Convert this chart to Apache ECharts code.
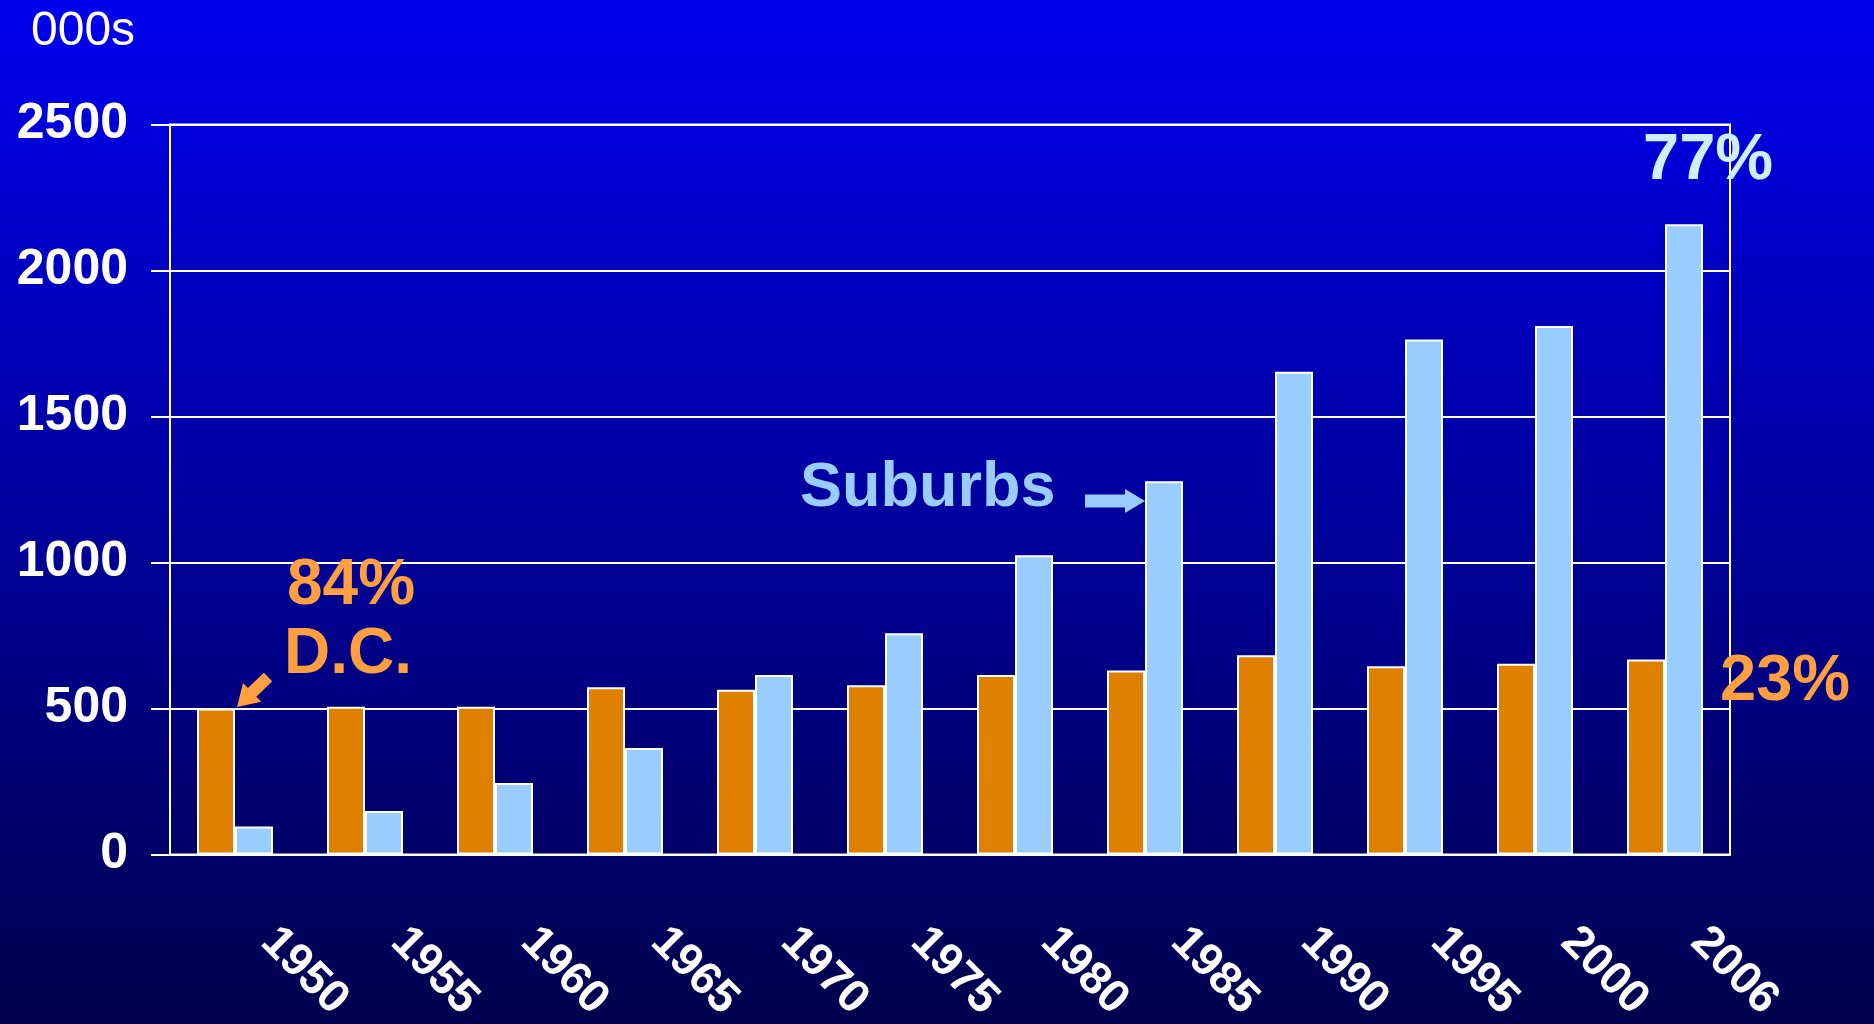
<!DOCTYPE html>
<html>
<head>
<meta charset="utf-8">
<title>D.C. vs Suburbs</title>
<script src="https://cdn.jsdelivr.net/npm/echarts@6/dist/echarts.min.js"></script>
<style>
  html, body {
    margin: 0;
    padding: 0;
    background: linear-gradient(#0000ee, #00004d);
  }
  #main {
    width: 1874px;
    height: 1024px;
  }
</style>
</head>
<body>
<div id="main"></div>
<script>
// population, thousands
const years = ["1950", "1955", "1960", "1965", "1970", "1975", "1980", "1985", "1990", "1995", "2000", "2006"];
const dcPop = [500, 506, 506, 573, 564, 580, 615, 630, 682, 645, 653, 668];
const suburbPop = [96, 149, 245, 365, 615, 758, 1025, 1278, 1653, 1764, 1810, 2158];

const FONT = "'Liberation Sans', Arial, sans-serif";
const ORANGE = "#df8000";
const ORANGE_TXT = "#ff9f40";
const LIGHTBLUE = "#99ccff";

// arrow outline: tail -> tip
function arrow(tail, tip, shaftW, headW, headL) {
  const dx = tip[0] - tail[0], dy = tip[1] - tail[1];
  const len = Math.sqrt(dx * dx + dy * dy);
  const ux = dx / len, uy = dy / len;
  const nx = -uy, ny = ux;
  const bx = tip[0] - ux * headL, by = tip[1] - uy * headL;
  const s = shaftW / 2, h = headW / 2;
  return [
    [tail[0] + nx * s, tail[1] + ny * s],
    [bx + nx * s, by + ny * s],
    [bx + nx * h, by + ny * h],
    [tip[0], tip[1]],
    [bx - nx * h, by - ny * h],
    [bx - nx * s, by - ny * s],
    [tail[0] - nx * s, tail[1] - ny * s]
  ];
}

function label(text, x, y, size, color, weight) {
  return {
    type: "text",
    x: x,
    y: y,
    z: 100,
    style: {
      text: text,
      fill: color,
      font: (weight || "bold") + " " + size + "px " + FONT,
      verticalAlign: "top"
    }
  };
}

const chart = echarts.init(document.getElementById("main"));

const option = {
  animation: false,
  backgroundColor: new echarts.graphic.LinearGradient(0, 0, 0, 1, [
    { offset: 0, color: "#0000ee" },
    { offset: 1, color: "#00004d" }
  ]),
  textStyle: { fontFamily: FONT },
  grid: {
    left: 170,
    right: 144,
    top: 124.5,
    bottom: 169.5,
    show: true,
    borderColor: "#fff",
    borderWidth: 2,
    backgroundColor: "transparent",
    containLabel: false,
    outerBoundsMode: "none"
  },
  xAxis: {
    type: "category",
    data: years,
    axisLine: { lineStyle: { color: "#fff", width: 2 } },
    axisTick: { length: 18, interval: 0, lineStyle: { color: "#fff", width: 2 } },
    axisLabel: {
      interval: 0,
      rotate: -45,
      margin: 47,
      padding: [0, 0, 0, 47],
      color: "#fff",
      fontSize: 46,
      fontWeight: "bold",
      fontFamily: FONT
    },
    splitLine: { show: false }
  },
  yAxis: {
    type: "value",
    min: 0,
    max: 2500,
    interval: 500,
    axisLine: { show: true, lineStyle: { color: "#fff", width: 2 } },
    axisTick: { show: true, length: 19, lineStyle: { color: "#fff", width: 2 } },
    axisLabel: {
      margin: 42,
      color: "#fff",
      fontSize: 50,
      fontWeight: "bold",
      fontFamily: FONT,
      formatter: function (v) { return String(v); }
    },
    splitLine: { lineStyle: { color: "#fff", width: 2 } }
  },
  series: [
    {
      name: "D.C.",
      type: "bar",
      data: dcPop,
      barWidth: 38,
      barGap: "0%",
      itemStyle: { color: ORANGE, borderColor: "#fff", borderWidth: 2 }
    },
    {
      name: "Suburbs",
      type: "bar",
      data: suburbPop,
      barWidth: 38,
      barGap: "0%",
      itemStyle: { color: LIGHTBLUE, borderColor: "#fff", borderWidth: 2 }
    }
  ],
  graphic: [
    label("000s", 31, 8, 48, "#fff", "normal"),
    label("84%", 287, 554, 64, ORANGE_TXT),
    label("D.C.", 284, 623, 64, ORANGE_TXT),
    label("Suburbs", 800, 457, 63, LIGHTBLUE),
    label("77%", 1643, 129, 65, "#cceeff"),
    label("23%", 1720, 650, 65, ORANGE_TXT),
    {
      type: "polygon",
      z: 100,
      shape: { points: arrow([268, 677], [237, 707], 12, 26, 21) },
      style: { fill: ORANGE_TXT }
    },
    {
      type: "polygon",
      z: 100,
      shape: { points: arrow([1085, 501], [1145, 501], 13, 24, 20) },
      style: { fill: LIGHTBLUE }
    }
  ]
};

chart.setOption(option);
</script>
</body>
</html>
